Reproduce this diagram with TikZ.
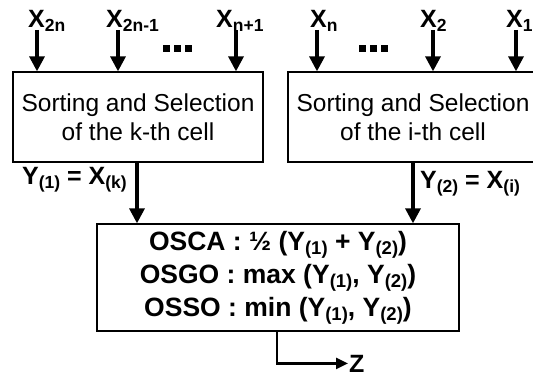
\documentclass[tikz,border=0pt]{standalone}
\usepackage{fontspec}
\setmainfont{Liberation Sans}
\usetikzlibrary{arrows.meta}

\newcommand{\idx}[1]{\raisebox{-4pt}{\fontsize{17.5}{17.5}\selectfont #1}}
\newcommand{\bidx}[1]{\raisebox{-4pt}{\fontsize{18.5}{18.5}\selectfont #1}}
\newcommand{\dotrow}{\rule{7pt}{7pt}\hspace{4pt}\rule{7pt}{7pt}\hspace{4pt}\rule{7pt}{7pt}}

\begin{document}
\begin{tikzpicture}[
        x=1pt, y=-1pt,
        cell/.style={
            rectangle,
            draw=black,
            line width=1.3pt,
            minimum width=250pt,
            minimum height=90pt,
            align=center,
            font=\fontsize{24.5}{29}\selectfont
        },
        osbox/.style={
            rectangle,
            draw=black,
            line width=1.3pt,
            minimum width=362pt,
            minimum height=107pt,
            align=center,
            font=\fontsize{26.5}{33}\selectfont\bfseries
        },
        lbl/.style={
            inner sep=1pt,
            font=\fontsize{25}{25}\selectfont\bfseries
        },
        sig/.style={
            -{Triangle[length=15pt,width=15pt]},
            line width=3.3pt
        },
        zarr/.style={
            -{Triangle[length=12pt,width=11pt]},
            line width=2.5pt
        }
    ]

    \useasboundingbox (0,0) rectangle (533,377);

    \node[cell] (kcell) at (138,117) {Sorting and Selection\\of the k-th cell};
    \node[cell] (icell) at (413,117) {Sorting and Selection\\of the i-th cell};
    \node[osbox] (os) at (278,277.5) {OSCA : ½ (Y\bidx{(1)} + Y\bidx{(2)})\\OSGO : max (Y\bidx{(1)}, Y\bidx{(2)})\\OSSO : min (Y\bidx{(1)}, Y\bidx{(2)})};

    % inputs of the k-th cell
    \node[lbl, anchor=base west] (x2n) at (27,28) {X\idx{2n}};
    \node[lbl, anchor=base west] (x2m) at (105,28) {X\idx{2n-1}};
    \node[lbl, anchor=base west] (xn1) at (215,28) {X\idx{n+1}};
    \node[inner sep=0pt] (dk) at (177,49) {\dotrow};
    \coordinate (a1) at (37,30);
    \coordinate (a2) at (118,30);
    \coordinate (a3) at (236,30);
    \foreach \a in {a1,a2,a3} {
        \draw[sig] (\a) -- (\a |- kcell.north);
    }

    % inputs of the i-th cell
    \node[lbl, anchor=base west] (xn) at (309,28) {X\idx{n}};
    \node[lbl, anchor=base west] (x2) at (419,28) {X\idx{2}};
    \node[lbl, anchor=base west] (x1) at (505,28) {X\idx{1}};
    \node[inner sep=0pt] (di) at (373,49) {\dotrow};
    \coordinate (b1) at (317,30);
    \coordinate (b2) at (433,30);
    \coordinate (b3) at (516,30);
    \foreach \b in {b1,b2,b3} {
        \draw[sig] (\b) -- (\b |- icell.north);
    }

    % selected outputs
    \draw[sig] ([xshift=-1pt]kcell.south) -- ([xshift=-1pt]kcell.south |- os.north);
    \node[lbl, anchor=base east] (yk) at (128,185) {Y\idx{(1)} = X\idx{(k)}};
    \draw[sig] (icell.south) -- (icell.south |- os.north);
    \node[lbl, anchor=base west] (yi) at (419,189) {Y\idx{(2)} = X\idx{(i)}};

    \node[lbl, anchor=base west] (z) at (348,372) {Z};
    \draw[zarr] ([xshift=-1pt]os.south) |- (z.west);

    \end{tikzpicture}
\end{document}
